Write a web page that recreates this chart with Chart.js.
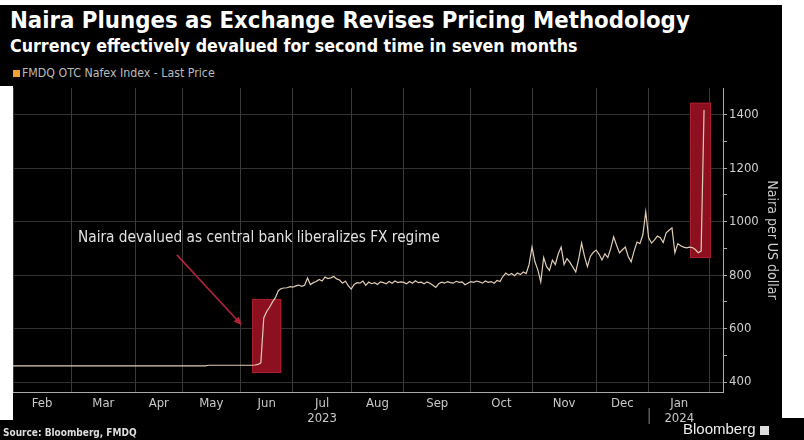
<!DOCTYPE html>
<html>
<head>
<meta charset="utf-8">
<script src="https://cdn.jsdelivr.net/npm/chart.js@4.4.1/dist/chart.umd.min.js"></script>
<style>
  html, body { margin: 0; padding: 0; }
  body { width: 804px; height: 440px; background: #000; position: relative; overflow: hidden;
         font-family: 'DejaVu Sans Condensed', 'Liberation Sans Narrow', sans-serif; }
  .abs { position: absolute; white-space: nowrap; }
  #title { left: 10px; top: 6px; color: #fff; font-weight: bold; font-size: 24px; }
  #subtitle { left: 10px; top: 36px; color: #fff; font-weight: bold; font-size: 17px; }
  #legend { left: 13px; top: 66px; color: #bbb; font-size: 12px; }
  #legend i { display: inline-block; width: 7px; height: 7px; background: #f0a030; margin-right: 2px; vertical-align: 0; }
  #source { left: 3px; top: 427px; color: #ddd; font-weight: bold; font-size: 10px; }
  #brand { left: 683px; top: 420px; color: #eee; font-family: 'Liberation Sans', sans-serif; font-size: 15px; }
  #brand b { display: inline-block; width: 9px; height: 9px; background: #ddd; margin-left: 4px; vertical-align: -1px; }
  .white { position: absolute; background: #fff; }
  canvas { position: absolute; left: 0; top: 0; }
</style>
</head>
<body>
<div class="white" style="left:0;top:0;width:804px;height:5px"></div>
<div class="white" style="left:0;top:86px;width:13px;height:334px"></div>
<div class="white" style="left:782px;top:0;width:22px;height:418px"></div>
<div id="title" class="abs">Naira Plunges as Exchange Revises Pricing Methodology</div>
<div id="subtitle" class="abs">Currency effectively devalued for second time in seven months</div>
<div id="legend" class="abs"><i></i>FMDQ OTC Nafex Index - Last Price</div>
<canvas id="chart" width="804" height="440"></canvas>
<div id="source" class="abs">Source: Bloomberg, FMDQ</div>
<div id="brand" class="abs">Bloomberg<b></b></div>
<script>
// trading-day months shown on the x axis (Feb 2023 .. Jan 2024)
const monthLabels = ['Feb', 'Mar', 'Apr', 'May', 'Jun', ['Jul', '2023'], 'Aug', 'Sep', 'Oct', 'Nov', 'Dec', ['Jan', '2024']];
const monthTradingDays = [20, 22, 16, 20, 18, 20, 18, 23, 21, 22, 18, 21];
const yTicks = [400, 500, 600, 700, 800, 900, 1000, 1100, 1200, 1300, 1400];

// FMDQ OTC Nafex index, naira per dollar, by trading day
const tradingDay = [0, 20, 40, 66, 67, 82, 83, 84, 85,
  86, 87, 88, 89, 90, 91, 92, 93, 94, 95, 96, 97, 98, 99,
  100, 101, 102, 103, 104, 105, 106, 107, 108, 109, 110, 111, 112, 113, 114, 115, 116, 117, 118, 119,
  120, 121, 122, 123, 124, 125, 126, 127, 128, 129, 130, 131, 132, 133, 134, 135, 136, 137, 138, 139,
  140, 141, 142, 143, 144, 145, 146, 147, 148, 149, 150, 151, 152, 153, 154, 155, 156, 157, 158, 159,
  160, 161, 162, 163, 164, 165, 166, 167, 168, 169, 170, 171, 172, 173, 174, 175, 176, 177, 178, 179,
  180, 181, 182, 183, 184, 185, 186, 187, 188, 189, 190, 191, 192, 193, 194, 195, 196, 197, 198, 199,
  200, 201, 202, 203, 204, 205, 206, 207, 208, 209, 210, 211, 212, 213, 214, 215, 216, 217, 218, 219,
  220, 221, 222, 223, 224, 225, 226, 227, 228, 229, 230, 231, 232, 233, 234, 235, 236, 237];
const nafexRate = [461, 461, 461, 461, 463, 463, 464, 466, 472,
  640, 664, 680, 700, 716, 742, 750, 752, 753, 757, 755, 760, 763, 758,
  762, 789, 765, 772, 776, 784, 778, 793, 787, 790, 795, 786, 782, 770, 778, 760, 748, 765, 772, 770,
  778, 762, 774, 768, 772, 765, 775, 772, 768, 776, 770, 778, 772, 775, 773, 768, 776, 770, 779, 772,
  774, 768, 775, 770, 762, 754, 768, 774, 770, 776, 772, 770, 777, 773, 775, 764, 770, 776, 773, 778,
  775, 770, 778, 773, 776, 770, 780, 776, 795, 808, 800, 806, 798, 808, 802, 812, 806, 840, 905, 850,
  820, 775, 866, 832, 818, 856, 840, 880, 905, 840, 862, 848, 830, 812, 860, 920, 870, 832, 870, 885,
  894, 878, 857, 880, 866, 900, 943, 912, 883, 895, 905, 870, 850, 890, 924, 918, 950, 1037, 940, 920,
  932, 946, 940, 922, 958, 968, 977, 884, 918, 910, 905, 902, 905, 903, 896, 884, 890, 1418];

// red highlight boxes (trading day span, rate span)
const highlightFrom = [82, 232.2];
const highlightTo = [92, 239.4];
const highlightLow = [434, 864];
const highlightHigh = [711, 1445];

const note = {
  text: 'Naira devalued as central bank liberalizes FX regime',
  x: 22.3, y: 940, width: 362,
  arrowFrom: [56.2, 876], arrowTo: [78.5, 613]
};

// month boundaries and label positions
const boundaries = [0];
monthTradingDays.forEach(d => boundaries.push(boundaries[boundaries.length - 1] + d));
const mids = monthTradingDays.map((d, i) => boundaries[i] + d / 2);
const labelAt = new Map(mids.map((m, i) => [m, monthLabels[i]]));
const isBoundary = v => boundaries.includes(v);

const AXIS_FONT = "'DejaVu Sans Condensed', 'Liberation Sans Narrow', sans-serif";

const highlightPlugin = {
  id: 'highlights',
  beforeDatasetsDraw(chart) {
    const { ctx, scales: { x, y } } = chart;
    ctx.save();
    highlightFrom.forEach((f, i) => {
      const x0 = x.getPixelForValue(f), x1 = x.getPixelForValue(highlightTo[i]);
      const y0 = y.getPixelForValue(highlightHigh[i]), y1 = y.getPixelForValue(highlightLow[i]);
      ctx.fillStyle = '#8c1020';
      ctx.fillRect(x0, y0, x1 - x0, y1 - y0);
      ctx.strokeStyle = '#a8202e';
      ctx.lineWidth = 1;
      ctx.strokeRect(x0 + 0.5, y0 + 0.5, x1 - x0 - 1, y1 - y0 - 1);
    });
    ctx.restore();
  }
};

const notePlugin = {
  id: 'note',
  afterDatasetsDraw(chart) {
    const { ctx, scales: { x, y } } = chart;
    ctx.save();
    ctx.font = '14px ' + AXIS_FONT;
    const size = 14 * note.width / ctx.measureText(note.text).width;
    ctx.font = size.toFixed(2) + 'px ' + AXIS_FONT;
    ctx.fillStyle = '#e2e2e2';
    ctx.textBaseline = 'middle';
    ctx.fillText(note.text, x.getPixelForValue(note.x), y.getPixelForValue(note.y));

    const ax = x.getPixelForValue(note.arrowFrom[0]), ay = y.getPixelForValue(note.arrowFrom[1]);
    const bx = x.getPixelForValue(note.arrowTo[0]), by = y.getPixelForValue(note.arrowTo[1]);
    const ang = Math.atan2(by - ay, bx - ax);
    ctx.strokeStyle = '#b3223a';
    ctx.fillStyle = '#b3223a';
    ctx.lineWidth = 1.6;
    ctx.beginPath();
    ctx.moveTo(ax, ay);
    ctx.lineTo(bx - 5 * Math.cos(ang), by - 5 * Math.sin(ang));
    ctx.stroke();
    ctx.beginPath();
    ctx.moveTo(bx, by);
    ctx.lineTo(bx - 9 * Math.cos(ang - 0.4), by - 9 * Math.sin(ang - 0.4));
    ctx.lineTo(bx - 9 * Math.cos(ang + 0.4), by - 9 * Math.sin(ang + 0.4));
    ctx.closePath();
    ctx.fill();

    // year separator under the Dec/Jan boundary
    const jan = x.getPixelForValue(boundaries[11]);
    ctx.strokeStyle = '#888';
    ctx.lineWidth = 1;
    ctx.beginPath();
    ctx.moveTo(jan + 0.5, chart.chartArea.bottom + 16);
    ctx.lineTo(jan + 0.5, chart.chartArea.bottom + 32);
    ctx.stroke();
    ctx.restore();
  }
};

new Chart(document.getElementById('chart'), {
  type: 'line',
  data: {
    datasets: [{
      data: tradingDay.map((d, i) => ({ x: d, y: nafexRate[i] })),
      borderColor: '#e0cdb4',
      borderWidth: 1.2,
      pointRadius: 0,
      tension: 0
    }]
  },
  options: {
    responsive: false,
    animation: false,
    layout: { padding: { left: 13, top: 88, right: 22, bottom: 0 } },
    plugins: { legend: { display: false }, tooltip: { enabled: false } },
    scales: {
      x: {
        type: 'linear', min: 0, max: 243.5,
        afterBuildTicks: s => {
          s.ticks = [...boundaries, ...mids].sort((a, b) => a - b).map(v => ({ value: v }));
        },
        afterFit: s => { s.height = 48; },
        border: { color: '#aaa', width: 1 },
        grid: {
          drawTicks: false,
          color: c => (c.tick && isBoundary(c.tick.value)) ? '#3a3a3a' : 'rgba(0,0,0,0)'
        },
        ticks: {
          autoSkip: false, maxRotation: 0, padding: 4,
          color: '#c8c8c8',
          font: { family: AXIS_FONT, size: 13, lineHeight: 1.15 },
          callback: v => labelAt.has(v) ? labelAt.get(v) : ''
        }
      },
      y: {
        position: 'right', min: 363, max: 1500,
        afterBuildTicks: s => { s.ticks = yTicks.map(v => ({ value: v })); },
        afterFit: s => { s.width = 59; },
        border: { color: '#aaa', width: 1 },
        grid: {
          tickLength: 4,
          tickColor: '#aaa',
          color: c => (c.tick && c.tick.value % 200 === 0) ? '#333' : 'rgba(0,0,0,0)'
        },
        ticks: {
          padding: 2,
          color: '#cfcfcf',
          font: { family: AXIS_FONT, size: 13 },
          callback: v => v % 200 === 0 ? v : ''
        },
        title: {
          display: true, text: 'Naira per US dollar',
          color: '#cfcfcf',
          font: { family: AXIS_FONT, size: 14 },
          padding: { top: 2, bottom: 0 }
        }
      }
    }
  },
  plugins: [highlightPlugin, notePlugin]
});

function fitWidth(id, target) {
  const el = document.getElementById(id);
  const w = el.getBoundingClientRect().width;
  const fs = parseFloat(getComputedStyle(el).fontSize);
  el.style.fontSize = (fs * target / w).toFixed(2) + 'px';
}
fitWidth('title', 680);
fitWidth('subtitle', 568);
fitWidth('legend', 202);
</script>
</body>
</html>
